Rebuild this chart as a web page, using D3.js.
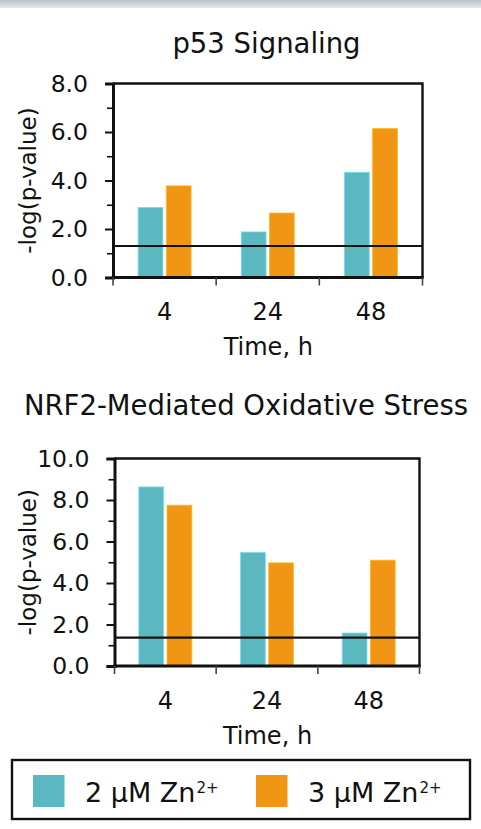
<!DOCTYPE html>
<html>
<head>
<meta charset="utf-8">
<script src="https://cdn.jsdelivr.net/npm/d3@7/dist/d3.min.js"></script>
<style>
  html, body { margin: 0; padding: 0; background: #fff; }
  svg { display: block; }
  text { font-family: "DejaVu Sans", sans-serif; fill: #111; }
</style>
</head>
<body>
<svg id="chart" width="481" height="829"></svg>
<script>
// Time points (h) and pathway significance values
const times = ["4", "24", "48"];
const seriesNames = ["2 µM Zn", "3 µM Zn"];
const seriesColors = ["#5bb7c0", "#f09614"];

const p53Low = [2.89, 1.88, 4.34];
const p53High = [3.78, 2.66, 6.14];
const p53Threshold = 1.30;
const p53Ticks = [0, 2, 4, 6, 8];

const nrf2Low = [8.63, 5.47, 1.59];
const nrf2High = [7.75, 4.97, 5.10];
const nrf2Threshold = 1.37;
const nrf2Ticks = [0, 2, 4, 6, 8, 10];

const svg = d3.select("#chart");

// Header band
const grad = svg.append("defs").append("linearGradient")
  .attr("id", "band").attr("x1", 0).attr("y1", 0).attr("x2", 0).attr("y2", 1);
grad.append("stop").attr("offset", "0%").attr("stop-color", "#b9c4c8");
grad.append("stop").attr("offset", "100%").attr("stop-color", "#e3e8ea");
svg.append("rect").attr("x", 0).attr("y", 0).attr("width", 481).attr("height", 8)
  .attr("fill", "url(#band)");

function drawPanel(cfg) {
  const g = svg.append("g");
  const { left, right, top, bottom } = cfg;

  const x = d3.scaleBand().domain(times).range([left, right]);
  const y = d3.scaleLinear().domain([0, d3.max(cfg.ticks)]).range([bottom, top]);
  const bw = x.bandwidth();
  const x1 = d3.scaleBand().domain([0, 1])
    .range([bw / 2 - 26.5, bw / 2 + 26.5]).paddingInner(0.12);

  // Title
  g.append("text").attr("x", cfg.titleX).attr("y", cfg.titleY)
    .attr("text-anchor", "middle").attr("font-size", 27.5).text(cfg.title);

  // Bars
  [cfg.low, cfg.high].forEach((vals, si) => {
    g.append("g").selectAll("rect").data(vals).join("rect")
      .attr("x", (d, i) => x(times[i]) + x1(si))
      .attr("width", x1.bandwidth())
      .attr("y", d => y(d))
      .attr("height", d => y(0) - y(d))
      .attr("fill", seriesColors[si])
      .attr("stroke", d3.color(seriesColors[si]).brighter(0.6))
      .attr("stroke-width", 0.8);
  });

  // Significance threshold
  g.append("line")
    .attr("x1", left).attr("x2", right)
    .attr("y1", y(cfg.threshold)).attr("y2", y(cfg.threshold))
    .attr("stroke", "#111").attr("stroke-width", 2.2);

  // Frame (top / right)
  g.append("path")
    .attr("d", `M${left},${top}H${right}V${bottom}`)
    .attr("fill", "none").attr("stroke", "#111").attr("stroke-width", 2.4);

  // Y axis with minor ticks
  const minor = d3.range(1, d3.max(cfg.ticks), 2);
  g.append("g").attr("transform", `translate(${left},0)`)
    .call(d3.axisLeft(y).tickValues(minor).tickSize(6).tickFormat(""))
    .call(a => a.select(".domain").remove())
    .call(a => a.selectAll("line").attr("stroke", "#111").attr("stroke-width", 1.6));
  const ya = g.append("g").attr("transform", `translate(${left},0)`)
    .call(d3.axisLeft(y).tickValues(cfg.ticks).tickSize(8).tickPadding(17).tickFormat(d3.format(".1f")));
  ya.select(".domain").attr("stroke", "#111").attr("stroke-width", 3);
  ya.selectAll("line").attr("stroke", "#111").attr("stroke-width", 2);
  ya.selectAll("text").attr("font-size", 23.5).attr("font-family", "DejaVu Sans").style("fill", "#111");

  // X axis: separators between categories, labels centred
  const edges = [left, ...times.map(t => x(t) + bw)];
  g.append("line").attr("x1", left - 1.5).attr("x2", right + 1.2)
    .attr("y1", bottom).attr("y2", bottom).attr("stroke", "#111").attr("stroke-width", 3);
  g.append("g").selectAll("line").data(edges).join("line")
    .attr("x1", d => d).attr("x2", d => d)
    .attr("y1", bottom).attr("y2", bottom + 8)
    .attr("stroke", "#444").attr("stroke-width", 1.6);
  g.append("g").selectAll("text").data(times).join("text")
    .attr("x", d => x(d) + bw / 2).attr("y", bottom + 42.5)
    .attr("text-anchor", "middle").attr("font-size", 24).text(d => d);

  // Axis titles
  g.append("text").attr("x", (left + right) / 2 + 0.5).attr("y", bottom + 77.5)
    .attr("text-anchor", "middle").attr("font-size", 24).text("Time, h");
  g.append("text")
    .attr("transform", `translate(36,${(top + bottom) / 2}) rotate(-90)`)
    .attr("text-anchor", "middle").attr("font-size", 23).text("-log(p-value)");
}

drawPanel({
  title: "p53 Signaling", titleX: 266.5, titleY: 53,
  low: p53Low, high: p53High, threshold: p53Threshold, ticks: p53Ticks,
  left: 113, right: 422.5, top: 83.5, bottom: 277.5
});

drawPanel({
  title: "NRF2-Mediated Oxidative Stress", titleX: 246, titleY: 415,
  low: nrf2Low, high: nrf2High, threshold: nrf2Threshold, ticks: nrf2Ticks,
  left: 114.5, right: 419.5, top: 458.5, bottom: 666
});

// Legend
const lg = svg.append("g");
lg.append("rect").attr("x", 12).attr("y", 760).attr("width", 458).attr("height", 59)
  .attr("fill", "#fff").attr("stroke", "#111").attr("stroke-width", 2.4);
const legendX = [33, 256];
seriesNames.forEach((name, i) => {
  lg.append("rect").attr("x", legendX[i]).attr("y", 775).attr("width", 31.5).attr("height", 32)
    .attr("fill", seriesColors[i]);
  const t = lg.append("text").attr("x", legendX[i] + 52).attr("y", 801.5).attr("font-size", 27);
  t.append("tspan").text(name);
  t.append("tspan").attr("dy", -9).attr("dx", 1).attr("font-size", 15).text("2+");
});
</script>
</body>
</html>
